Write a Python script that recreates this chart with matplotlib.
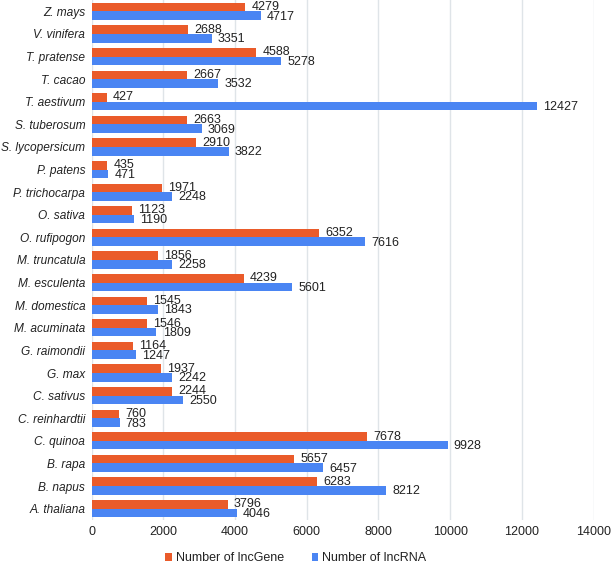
import numpy as np
import matplotlib.pyplot as plt

plt.rcParams['font.family'] = ['Liberation Sans', 'DejaVu Sans']

species = ['Z. mays', 'V. vinifera', 'T. pratense', 'T. cacao', 'T. aestivum',
           'S. tuberosum', 'S. lycopersicum', 'P. patens', 'P. trichocarpa',
           'O. sativa', 'O. rufipogon', 'M. truncatula', 'M. esculenta',
           'M. domestica', 'M. acuminata', 'G. raimondii', 'G. max',
           'C. sativus', 'C. reinhardtii', 'C. quinoa', 'B. rapa', 'B. napus',
           'A. thaliana']
lnc_gene = [4279, 2688, 4588, 2667, 427, 2663, 2910, 435, 1971, 1123, 6352,
            1856, 4239, 1545, 1546, 1164, 1937, 2244, 760, 7678, 5657, 6283, 3796]
lnc_rna = [4717, 3351, 5278, 3532, 12427, 3069, 3822, 471, 2248, 1190, 7616,
           2258, 5601, 1843, 1809, 1247, 2242, 2550, 783, 9928, 6457, 8212, 4046]

orange = '#ea5b2a'
blue = '#4a85f3'
txt = '#222222'

fig = plt.figure(figsize=(6.15, 5.63), dpi=100)
ax = fig.add_axes([0.1488, 0.0764, 0.8163, 0.9236])

y = np.arange(len(species))
h = 0.38
ax.barh(y - h / 2, lnc_gene, height=h, color=orange, label='Number of lncGene')
ax.barh(y + h / 2, lnc_rna, height=h, color=blue, label='Number of lncRNA')

for yi, v in zip(y, lnc_gene):
    ax.annotate(str(v), (v, yi - h / 2), xytext=(4.5, 0), textcoords='offset points',
                va='center', ha='left', fontsize=9, color=txt)
for yi, v in zip(y, lnc_rna):
    ax.annotate(str(v), (v, yi + h / 2), xytext=(4.5, -0.7), textcoords='offset points',
                va='center', ha='left', fontsize=9, color=txt)

ax.set_yticks(y)
ax.set_yticklabels(species, fontstyle='italic', fontsize=8.6, color=txt)
ax.set_ylim(len(species) - 0.5, -0.5)
ax.set_xlim(0, 14000)
ax.set_xticks(np.arange(0, 14001, 2000))
ax.tick_params(axis='x', labelsize=9, labelcolor=txt, length=0, pad=4)
ax.tick_params(axis='y', length=0, pad=4.5)
for s in ax.spines.values():
    s.set_visible(False)
ax.grid(True, axis='x', color='#dfe4e8', linewidth=1)
ax.set_axisbelow(True)

handles, labels = ax.get_legend_handles_labels()
fig.legend(handles, labels, loc='center', bbox_to_anchor=(0.481, 0.008), ncol=2, frameon=False,
           fontsize=9, handlelength=0.55, handleheight=0.55, handletextpad=0.3,
           columnspacing=2.2, borderaxespad=0, borderpad=0, labelcolor=txt)

fig.savefig('out.png', dpi=100)
